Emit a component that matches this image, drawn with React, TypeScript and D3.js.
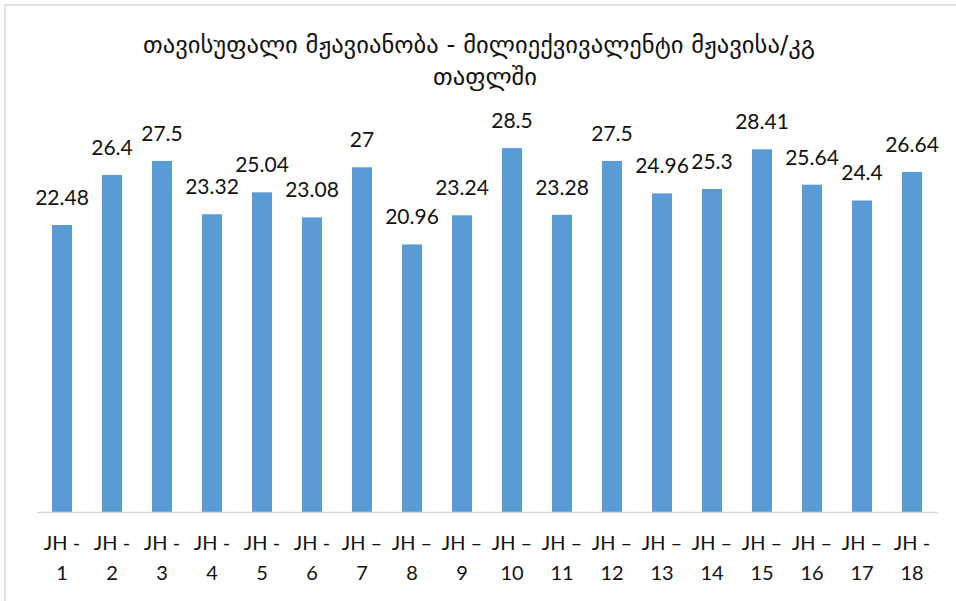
import React from "react";
import * as d3 from "d3";

const categories = ["1","2","3","4","5","6","7","8","9","10","11","12","13","14","15","16","17","18"];
const dashes = ["-","-","-","-","-","-","–","–","–","–","–","–","–","–","–","–","–","-"];
const values = [22.48,26.4,27.5,23.32,25.04,23.08,27,20.96,23.24,28.5,23.28,27.5,24.96,25.3,28.41,25.64,24.4,26.64];
const valueLabels = ["22.48","26.4","27.5","23.32","25.04","23.08","27","20.96","23.24","28.5","23.28","27.5","24.96","25.3","28.41","25.64","24.4","26.64"];
const titleLines = ["თავისუფალი მჟავიანობა - მილიექვივალენტი მჟავისა/კგ", "თაფლში"];

export default function App() {
  const W = 956, H = 601;
  const x = d3.scaleBand<string>().domain(categories).range([37, 937]).paddingInner(0.6).paddingOuter(0.3);
  const y = d3.scaleLinear().domain([0, 30]).range([512, 129]);
  const font = "Lato, 'Open Sans', sans-serif";
  const titleX = [479, 485];
  const titleY = [53, 85];
  const titleLen = [672, 104];
  return (
    <svg width={W} height={H} style={{ position: "absolute", left: 0, top: 0, background: "#fff" }}>
      <rect x={5} y={5} width={W + 10} height={H + 10} fill="#fff" stroke="#d9d9d9" strokeWidth={1.5} />
      {titleLines.map((t, i) => (
        <text key={i} x={titleX[i]} y={titleY[i]} textAnchor="middle" fontFamily="'DejaVu Sans', sans-serif" fontSize={24} fill="#111" textLength={titleLen[i]} lengthAdjust="spacingAndGlyphs">{t}</text>
      ))}
      {values.map((v, i) => (
        <rect key={i} x={x(categories[i])} y={y(v)} width={x.bandwidth()} height={y(0) - y(v)} fill="#5B9BD5" />
      ))}
      <line x1={37} x2={938} y1={y(0) + 0.5} y2={y(0) + 0.5} stroke="#d9d9d9" strokeWidth={1.5} />
      {values.map((v, i) => (
        <text key={i} x={(x(categories[i]) as number) + x.bandwidth() / 2} y={y(v) - 20} textAnchor="middle" fontFamily={font} fontSize={21} fill="#111">{valueLabels[i]}</text>
      ))}
      {categories.map((c, i) => (
        <g key={c}>
          <text x={(x(c) as number) + x.bandwidth() / 2} y={550} textAnchor="middle" fontFamily={font} fontSize={20} fill="#111">{"JH " + dashes[i]}</text>
          <text x={(x(c) as number) + x.bandwidth() / 2} y={580} textAnchor="middle" fontFamily={font} fontSize={20} fill="#111">{c}</text>
        </g>
      ))}
    </svg>
  );
}
